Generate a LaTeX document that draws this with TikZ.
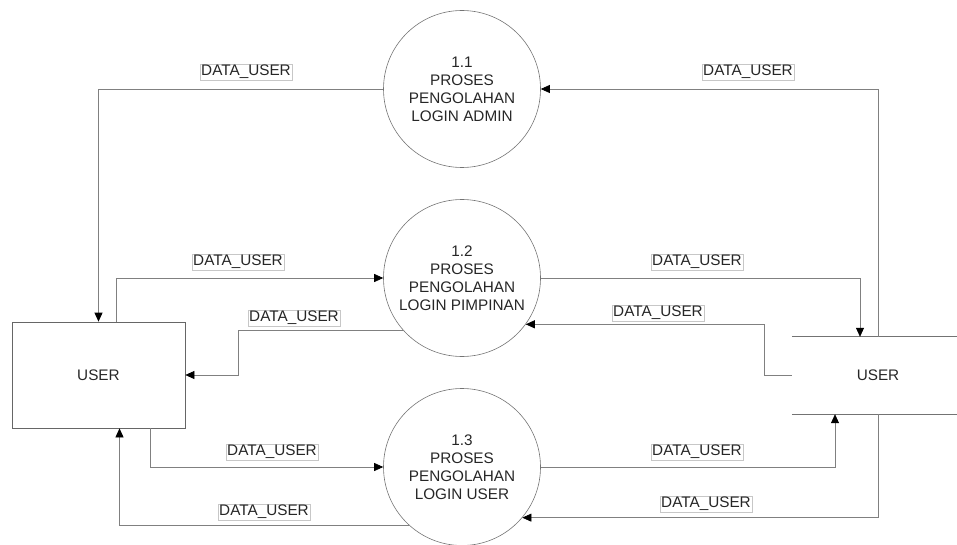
\documentclass[tikz,border=0pt]{standalone}
\usepackage{fontspec}
\setmainfont{Liberation Sans}
\usetikzlibrary{arrows.meta}
\begin{document}
\begin{tikzpicture}[x=1pt,y=-1pt,
  every node/.style={font=\fontsize{15.3}{18}\selectfont, text=black!85},
  proc/.style={circle, draw=black!55, line width=0.6pt, minimum size=157pt,
    inner sep=0pt, align=center},
  ent/.style={rectangle, draw=black!60, line width=0.7pt, minimum width=173pt,
    minimum height=106pt, inner sep=0pt},
  store/.style={rectangle, minimum width=172pt, minimum height=77pt, inner sep=0pt},
  flow/.style={draw=black!50, line width=0.7pt,
    -{Triangle[length=9pt,width=8pt,color=black]}},
  flowlbl/.style={draw=black!22, line width=0.4pt, inner sep=1pt, fill=white}
]
\useasboundingbox (0,0) rectangle (957,545);

% processes
\node[proc] (p1) at (462,89)  {1.1\\PROSES\\PENGOLAHAN\\LOGIN ADMIN};
\node[proc] (p2) at (462,278) {1.2\\PROSES\\PENGOLAHAN\\LOGIN PIMPINAN};
\node[proc] (p3) at (462,467) {1.3\\PROSES\\PENGOLAHAN\\LOGIN USER};

% external entity
\node[ent] (u1) at (98.5,375) {USER};

% data store (open on both sides)
\node[store] (u2) at (878,375.5) {USER};
\draw[draw=black!55, line width=0.7pt] (u2.north west) -- (u2.north east);
\draw[draw=black!55, line width=0.7pt] (u2.south west) -- (u2.south east);

% flows around 1.1
\draw[flow] (p1.west) -| (u1.north);
\draw[flow] (u2.north) |- (p1.east);

% flows around 1.2
\draw[flow] ([xshift=18pt]u1.north) |- (p2.west);
\draw[flow] (p2.east) -| ([xshift=-18pt]u2.north);
\draw[flow] (u2.west) -- ++(-27,0) |- (p2.-36);
\draw[flow] (p2.-138) -| ([xshift=53pt]u1.east) -- (u1.east);

% flows around 1.3
\draw[flow] ([xshift=52pt]u1.south) |- (p3.west);
\draw[flow] (p3.-132) -| ([xshift=21pt]u1.south);
\draw[flow] (p3.east) -| ([xshift=-43pt]u2.south);
\draw[flow] (u2.south) |- (p3.-40);

% flow labels
\node[flowlbl] (l1)  at (246,72)  {DATA\_USER};
\node[flowlbl] (l2)  at (748,72)  {DATA\_USER};
\node[flowlbl] (l3)  at (238,262) {DATA\_USER};
\node[flowlbl] (l4)  at (697,262) {DATA\_USER};
\node[flowlbl] (l5)  at (294,318) {DATA\_USER};
\node[flowlbl] (l6)  at (658,313) {DATA\_USER};
\node[flowlbl] (l7)  at (272,452) {DATA\_USER};
\node[flowlbl] (l8)  at (697,452) {DATA\_USER};
\node[flowlbl] (l9)  at (264,512) {DATA\_USER};
\node[flowlbl] (l10) at (706,504) {DATA\_USER};
\end{tikzpicture}
\end{document}
